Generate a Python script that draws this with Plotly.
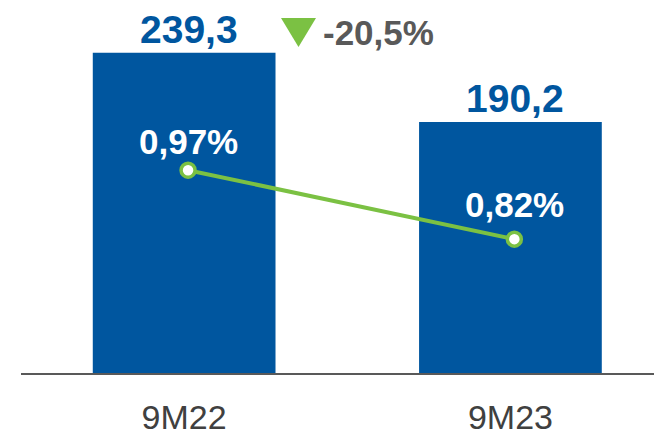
import plotly.graph_objects as go

# ---- data ----
categories = ["9M22", "9M23"]
values = [239.3, 190.2]
value_labels = ["239,3", "190,2"]
ratio = [0.97, 0.82]
ratio_labels = ["0,97%", "0,82%"]
change_label = "-20,5%"

# ---- styles ----
BLUE = "#00569F"
GREEN = "#7BC143"
GRAY = "#595959"
TICKGRAY = "#404040"
FONT = "Liberation Sans, Arial, sans-serif"

W, H = 654, 437
ML, MR, MT, MB = 21, 0, 0, 64
PW, PH = W - ML - MR, H - MT - MB


def px_to_paper(px, py):
    return (px - ML) / PW, (H - MB - py) / PH


fig = go.Figure()
fig.add_trace(go.Bar(
    x=categories, y=values, marker=dict(color=BLUE, line=dict(width=0)),
    width=0.56, xaxis="x", yaxis="y", hoverinfo="skip",
))
fig.add_trace(go.Scatter(
    x=categories, y=ratio, xaxis="x2", yaxis="y2", mode="lines+markers",
    line=dict(color=GREEN, width=4),
    marker=dict(size=14, color="white", line=dict(color=GREEN, width=3.5)),
    hoverinfo="skip", cliponaxis=False,
))

annotations = []
for c, v, lab in zip(categories, values, value_labels):
    annotations.append(dict(
        x=c, y=v, xref="x", yref="y", text=f"<b>{lab}</b>", showarrow=False,
        xanchor="center", yanchor="bottom", xshift=5, yshift=0,
        font=dict(family=FONT, size=39, color=BLUE),
    ))
ratio_shift = [7, 13]
for c, r, lab, ys in zip(categories, ratio, ratio_labels, ratio_shift):
    annotations.append(dict(
        x=c, y=r, xref="x2", yref="y2", text=f"<b>{lab}</b>", showarrow=False,
        xanchor="center", yanchor="bottom", xshift=0, yshift=ys,
        font=dict(family=FONT, size=35, color="white"),
    ))
cx, cy = px_to_paper(321, 33)
annotations.append(dict(
    x=cx, y=cy, xref="paper", yref="paper", text=f"<b>{change_label}</b>",
    showarrow=False, xanchor="left", yanchor="middle",
    font=dict(family=FONT, size=35, color=GRAY),
))

# down triangle indicator
p1 = px_to_paper(281, 18)
p2 = px_to_paper(316, 18)
p3 = px_to_paper(298.5, 47)
tri = f"M {p1[0]} {p1[1]} L {p2[0]} {p2[1]} L {p3[0]} {p3[1]} Z"

fig.update_layout(
    width=W, height=H,
    margin=dict(l=ML, r=MR, t=MT, b=MB, pad=0, autoexpand=False),
    paper_bgcolor="white", plot_bgcolor="white",
    showlegend=False,
    xaxis=dict(
        type="category", range=[-0.5, 1.44], showline=True,
        linecolor=GRAY, linewidth=2, ticks="", showgrid=False,
        tickfont=dict(family=FONT, size=34, color=TICKGRAY),
        ticklabelstandoff=13, automargin=False,
    ),
    xaxis2=dict(
        type="category", range=[-0.512, 1.428], overlaying="x",
        visible=False, automargin=False,
    ),
    yaxis=dict(range=[12.1, 276.7], showgrid=False, zeroline=False,
               showticklabels=False, showline=False, automargin=False),
    yaxis2=dict(range=[0.529, 1.34], overlaying="y", side="right",
                showgrid=False, zeroline=False, showticklabels=False,
                showline=False, automargin=False),
    annotations=annotations,
    shapes=[dict(type="path", path=tri, xref="paper", yref="paper",
                 fillcolor=GREEN, line=dict(width=0))],
)

fig.write_html(
    "out.html",
    config={"displayModeBar": False},
    post_script="document.body.style.margin='0';document.body.style.overflow='hidden';",
)
